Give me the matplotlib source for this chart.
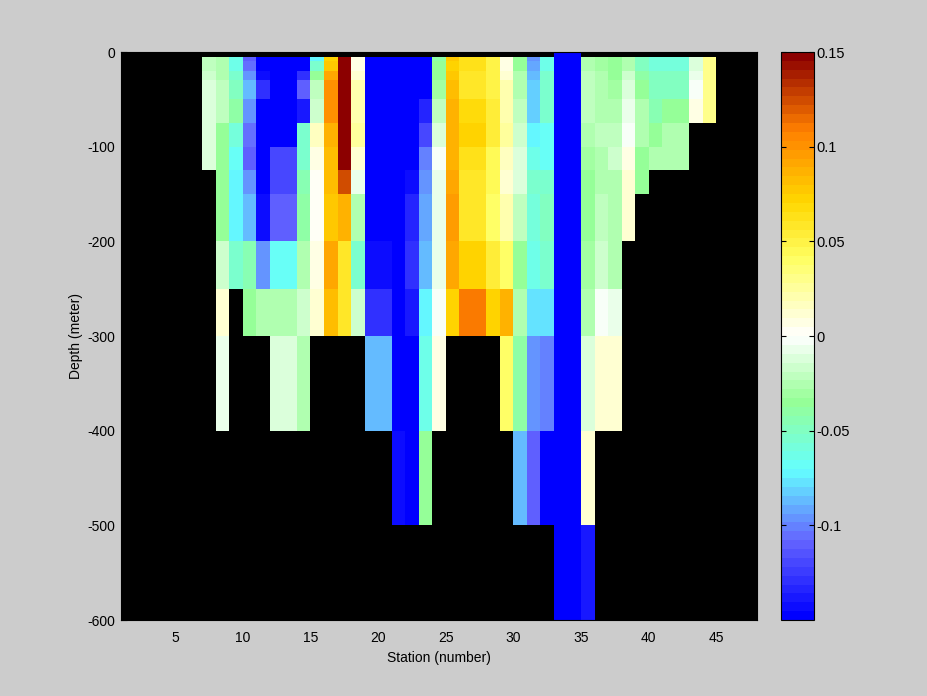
import numpy as np
import matplotlib
matplotlib.use('Agg')
import matplotlib.pyplot as plt
from matplotlib.colors import LinearSegmentedColormap

plt.rcParams['font.family'] = ['Liberation Sans', 'DejaVu Sans']
plt.rcParams['axes.unicode_minus'] = False

n = np.nan

# profundidades (bordes de las celdas) y estaciones
depth_edges = [0, 5, 10, 20, 30, 50, 75, 100, 125, 150, 200, 250, 300, 400, 500, 600]
station_edges = list(range(1, 49))
first_station = 7

# valores por estacion, de arriba hacia abajo (el resto queda sin dato)
s7 = [n, -.022, -.022, -.016, -.01, -.01, -.01, -.01]
s8 = [n, -.027, -.027, -.027, -.022, -.022, -.033, -.036, -.036, -.036, -.016, .014, -.006]
s9 = [n, -.064, -.064, -.056, -.05, -.04, -.058, -.068, -.072, -.072, -.054]
s10 = [n, -.11, -.105, -.094, -.085, -.094, -.105, -.11, -.097, -.085, -.046, -.036]
s11 = [n, -.15, -.15, -.145, -.13, -.15, -.15, -.15, -.15, -.145, -.097, -.027]
s12 = [n, -.15, -.15, -.15, -.15, -.15, -.15, -.118, -.118, -.11, -.068, -.027, -.01]
s13 = [n, -.15, -.15, -.15, -.15, -.15, -.15, -.118, -.118, -.11, -.068, -.027, -.01]
s14 = [n, -.15, -.15, -.13, -.11, -.14, -.056, -.056, -.045, -.04, -.026, -.016, -.024]
s15 = [n, -.072, -.054, -.034, -.022, -.016, .017, .005, .003, .003, .005, .014]
s16 = [n, .072, .078, .091, .1, .1, .089, .083, .083, .078, .093, .083]
s17 = [n, .15, .15, .15, .15, .15, .15, .15, .122, .089, .06, .06]
s18 = [n, .005, .005, .013, .02, .023, .028, .013, -.006, -.028, -.054, -.016]
s19 = [n, -.15, -.15, -.15, -.15, -.15, -.15, -.15, -.15, -.15, -.145, -.13, -.085]
s20 = [n, -.15, -.15, -.15, -.15, -.15, -.15, -.15, -.15, -.15, -.145, -.13, -.085]
s21 = [n, -.15, -.15, -.15, -.15, -.15, -.15, -.15, -.15, -.15, -.15, -.15, -.15, -.145]
s22 = [n, -.15, -.15, -.15, -.15, -.15, -.15, -.15, -.142, -.135, -.13, -.14, -.15, -.15]
s23 = [n, -.15, -.15, -.15, -.15, -.135, -.118, -.103, -.097, -.092, -.085, -.072, -.064, -.036]
s24 = [n, -.04, -.035, -.034, -.03, -.022, -.01, -.001, -.006, -.006, -.006, -.001, .005]
s25 = [n, .076, .074, .078, .083, .087, .087, .089, .093, .097, .093, .074]
s26 = [n, .062, .062, .06, .06, .068, .074, .062, .06, .058, .074, .11]
s27 = [n, .062, .062, .06, .06, .068, .074, .062, .06, .058, .074, .11]
s28 = [n, .05, .05, .05, .05, .052, .052, .046, .043, .038, .052, .074]
s29 = [n, .005, .005, .013, .02, .02, .024, .017, .013, .02, .04, .089, .04]
s30 = [n, -.035, -.035, -.028, -.026, -.021, -.016, -.01, -.012, -.021, -.037, -.026, -.04, -.085]
s31 = [n, -.097, -.092, -.085, -.08, -.08, -.075, -.064, -.054, -.057, -.064, -.079, -.094, -.11]
s32 = [n, -.064, -.064, -.056, -.056, -.056, -.068, -.068, -.054, -.049, -.052, -.079, -.1, -.15]
s33 = [-.15] * 15
s34 = [-.15] * 15
s35 = [n, -.027, -.027, -.022, -.022, -.022, -.027, -.03, -.033, -.033, -.03, -.027, -.01, .012, -.14]
s36 = [n, -.03, -.03, -.027, -.026, -.026, -.021, -.024, -.024, -.022, -.017, -.002, .013]
s37 = [n, -.035, -.035, -.033, -.03, -.026, -.021, -.017, -.024, -.027, -.027, -.006, .013]
s38 = [n, -.024, -.024, -.017, -.01, -.006, -.001, .005, .014, .014]
s39 = [n, -.047, -.047, -.04, -.033, -.027, -.027, -.035, -.035]
s40 = [n, -.06, -.06, -.05, -.05, -.043, -.035, -.028]
s41 = [n, -.06, -.06, -.05, -.05, -.035, -.028, -.028]
s42 = [n, -.06, -.06, -.05, -.05, -.035, -.028, -.028]
s43 = [n, -.012, -.012, -.006, -.001, .006]
s44 = [n, .031, .031, .031, .031, .031]

columns = [s7, s8, s9, s10, s11, s12, s13, s14, s15, s16, s17, s18, s19, s20, s21, s22, s23, s24, s25,
           s26, s27, s28, s29, s30, s31, s32, s33, s34, s35, s36, s37, s38, s39, s40, s41, s42, s43, s44]

# matriz filas x columnas, sin dato = NaN (negro)
z = np.full((len(depth_edges) - 1, len(station_edges) - 1), np.nan)
for i, col in enumerate(columns):
    z[:len(col), first_station - 1 + i] = col

# mapa de colores: azul - cian - verde - blanco - amarillo - naranja - rojo oscuro
cmap_stops = [(-.15, (0, 0, 255)), (-.11, (100, 100, 255)), (-.097, (100, 150, 255)), (-.072, (100, 255, 255)),
              (-.035, (150, 255, 150)), (0, (255, 255, 255)), (.041, (255, 255, 100)), (.072, (255, 215, 0)),
              (.11, (255, 128, 0)), (.15, (140, 0, 0))]
cmap = LinearSegmentedColormap.from_list(
    'oceano', [((v + .15) / .3, tuple(c / 255 for c in rgb)) for v, rgb in cmap_stops], N=64)
cmap.set_bad('black')

W, H = 928, 696
fig = plt.figure(figsize=(W / 100, H / 100), dpi=100, facecolor='#cccccc')
ax = fig.add_axes([121 / W, 1 - 620 / H, (757 - 121) / W, (620 - 52) / H], facecolor='black')
mesh = ax.pcolormesh(station_edges, -np.array(depth_edges), z, cmap=cmap, vmin=-.15, vmax=.15, shading='flat')

ax.set_xlim(1, 48)
ax.set_ylim(-600, 0)
ax.set_xticks(range(5, 50, 5))
ax.set_yticks(range(-600, 100, 100))
ax.set_axisbelow(True)  # las marcas quedan debajo de las celdas
ax.tick_params(direction='in', length=4, width=0.8, labelsize=10, colors='black')
ax.tick_params(axis='x', pad=8)
ax.tick_params(axis='y', pad=4)
ax.set_xlabel('Station (number)', fontsize=10, labelpad=4)
ax.set_ylabel('Depth (meter)', fontsize=10, labelpad=3)

cax = fig.add_axes([781 / W, 1 - 620 / H, (814 - 781) / W, (620 - 52) / H])
cb = fig.colorbar(mesh, cax=cax)
cb.set_ticks([-.1, -.05, 0, .05, .1, .15])
cb.set_ticklabels(['-0.1', '-0.05', '0', '0.05', '0.1', '0.15'])
cax.tick_params(direction='in', length=3.5, width=0.8, left=True, right=True, labelsize=10.5, pad=2)
cb.outline.set_linewidth(0.8)

fig.savefig('out.png', dpi=100, facecolor=fig.get_facecolor())
